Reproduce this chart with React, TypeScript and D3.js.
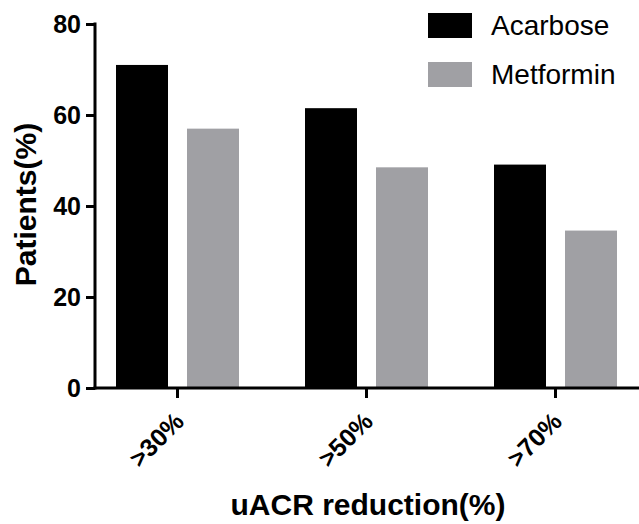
import React, { useEffect, useRef } from 'react';
import * as d3 from 'd3';

// chart data
const categories = ['>30%', '>50%', '>70%'];
const seriesNames = ['Acarbose', 'Metformin'];
const acarbose = [71, 61.5, 49.1];
const metformin = [57, 48.5, 34.6];
const yTicks = [0, 20, 40, 60, 80];

const colors = ['#000000', '#a0a0a4'];

const App: React.FC = () => {
  const svgRef = useRef<SVGSVGElement>(null);

  useEffect(() => {
    if (!svgRef.current) return;
    const svg = d3.select(svgRef.current);
    svg.selectAll('*').remove();

    const font = "'Liberation Sans', Arial, Helvetica, sans-serif";

    const y = d3.scaleLinear().domain([0, 80]).range([388, 24]);
    const x = d3.scaleBand<string>().domain(categories).range([83, 650]).padding(0);
    const inner = d3.scaleBand<string>()
      .domain(seriesNames)
      .range([0, x.bandwidth()])
      .paddingInner(0.2676)
      .paddingOuter(0.4648);

    const values = [acarbose, metformin];
    const rows = categories.flatMap((c, i) =>
      seriesNames.map((s, j) => ({ cat: c, series: s, value: values[j][i], color: colors[j] }))
    );

    // bars
    svg.append('g')
      .selectAll('rect')
      .data(rows)
      .join('rect')
        .attr('x', d => (x(d.cat) as number) + (inner(d.series) as number))
        .attr('y', d => y(d.value))
        .attr('width', inner.bandwidth())
        .attr('height', d => y(0) - y(d.value))
        .attr('fill', d => d.color);

    // y axis
    const yAxis = svg.append('g')
      .attr('transform', 'translate(95,0)')
      .call(d3.axisLeft(y).tickValues(yTicks).tickSize(9).tickPadding(5).tickSizeOuter(0));
    yAxis.select('.domain').attr('stroke', '#000').attr('stroke-width', 3)
      .attr('d', `M0,${y(80) - 1.5}V${y(0) + 1.5}`);
    yAxis.selectAll('.tick line').attr('stroke', '#000').attr('stroke-width', 3);
    yAxis.selectAll('.tick text')
      .attr('fill', '#000')
      .style('font-family', font)
      .style('font-size', '25px')
      .style('font-weight', 'bold');

    // x axis
    const xAxis = svg.append('g')
      .attr('transform', `translate(0,${y(0)})`)
      .call(d3.axisBottom(x).tickSize(10).tickSizeOuter(0));
    xAxis.select('.domain').attr('stroke', '#000').attr('stroke-width', 3)
      .attr('d', 'M93.5,0H639');
    xAxis.selectAll('.tick line').attr('stroke', '#000').attr('stroke-width', 3);
    xAxis.selectAll('.tick text')
      .attr('fill', '#000')
      .attr('text-anchor', 'end')
      .attr('x', 0)
      .attr('y', 0)
      .attr('dy', 0)
      .attr('transform', 'translate(8,35) rotate(-45)')
      .style('font-family', font)
      .style('font-size', '25px')
      .style('font-weight', 'bold');

    // axis titles
    svg.append('text')
      .attr('transform', 'translate(36,204.5) rotate(-90)')
      .attr('text-anchor', 'middle')
      .style('font-family', font)
      .style('font-size', '30px')
      .style('font-weight', 'bold')
      .text('Patients(%)');

    svg.append('text')
      .attr('x', 368)
      .attr('y', 515)
      .attr('text-anchor', 'middle')
      .style('font-family', font)
      .style('font-size', '30px')
      .style('font-weight', 'bold')
      .text('uACR reduction(%)');

    // legend
    const legend = svg.append('g')
      .selectAll('g')
      .data(seriesNames)
      .join('g')
        .attr('transform', (d, i) => `translate(428,${13 + i * 49})`);
    legend.append('rect')
      .attr('width', 44)
      .attr('height', 25)
      .attr('fill', (d, i) => colors[i]);
    legend.append('text')
      .attr('x', 63)
      .attr('y', 22)
      .style('font-family', font)
      .style('font-size', '28px')
      .text(d => d);
  }, []);

  return (
    <div style={{ position: 'absolute', left: 0, top: 0 }}>
      <svg ref={svgRef} width={639} height={524} style={{ display: 'block' }}></svg>
    </div>
  );
};

export default App;
